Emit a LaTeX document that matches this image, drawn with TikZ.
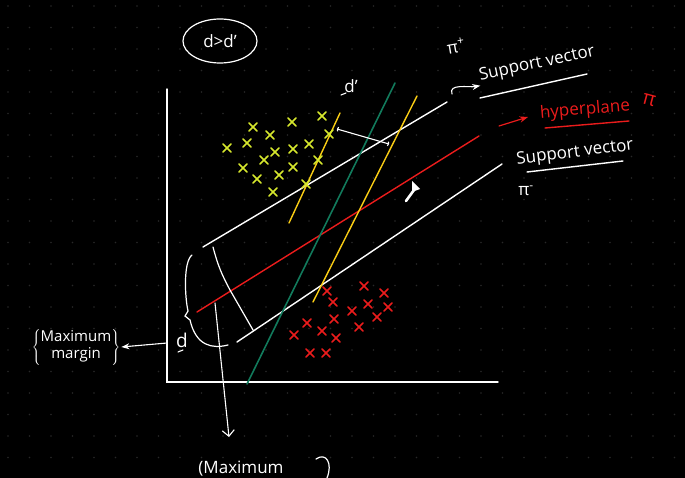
\documentclass[tikz,border=0pt]{standalone}
\usepackage{fontspec}
\setmainfont{Open Sans}
\usetikzlibrary{arrows.meta,shapes.geometric,positioning,calc}
\definecolor{hpred}{RGB}{235,28,28}
\definecolor{mgreen}{RGB}{18,122,92}
\definecolor{mgold}{RGB}{250,205,20}
\definecolor{ptyellow}{RGB}{215,232,45}
\definecolor{griddot}{RGB}{40,40,40}

\begin{document}
\begin{tikzpicture}[x=1pt, y=-1pt, >=Stealth, line cap=round,
  wline/.style={white, line width=1.4pt},
  hand/.style={white, font=\fontsize{17}{19}\selectfont, inner sep=1pt},
  ycross/.style={ptyellow, line width=1.6pt},
  rcross/.style={hpred, line width=1.6pt}]
  %% board
  \fill[black] (0,0) rectangle (685,478);
  \useasboundingbox (0,0) rectangle (685,478);
  \foreach \gx in {8,29.5,...,685}
    \foreach \gy in {6,27.5,...,478}
      \fill[griddot] (\gx,\gy) circle (0.8pt);

  %% axes
  \coordinate (ax-o) at (167,382);
  \coordinate (ax-y) at (167,89);
  \coordinate (ax-x) at (498,382);
  \draw[wline] (ax-y) -- (ax-o) -- (ax-x);

  %% ratio note
  \node[draw=white, line width=1.2pt, ellipse, minimum width=74pt, minimum height=44pt,
        hand] (ratio) at (220,41) {d>d'};

  %% margin planes and hyperplane
  \coordinate (pp-a) at (203,247);  \coordinate (pp-b) at (447,102);
  \coordinate (hp-a) at (197,312);  \coordinate (hp-b) at (479,136);
  \coordinate (pm-a) at (237,342);  \coordinate (pm-b) at (502,164);
  \draw[wline] (pp-a) -- (pp-b);
  \draw[hpred, line width=1.4pt] (hp-a) -- (hp-b);
  \draw[wline] (pm-a) -- (pm-b);

  %% other separating lines
  \coordinate (gr-a) at (247,384);  \coordinate (gr-b) at (395,83);
  \coordinate (y1-a) at (289,223);  \coordinate (y1-b) at (340,113);
  \coordinate (y2-a) at (313,302);  \coordinate (y2-b) at (417,96);
  \draw[mgreen, line width=1.6pt] (gr-a) -- (gr-b);
  \draw[mgold, line width=1.4pt] (y1-a) -- (y1-b);
  \draw[mgold, line width=1.4pt] (y2-a) -- (y2-b);

  %% d' between the yellow lines
  \coordinate (dp-a) at (337,129);  \coordinate (dp-b) at (389,144);
  \draw[white, line width=1.1pt, {Parenthesis[length=2pt,width=6pt]}-{Parenthesis[length=2pt,width=6pt]}]
    (dp-a) -- (dp-b);
  \node[hand] (dprime) at (351,86) {d'};
  \draw[white, line width=1.1pt] (341,95) -- (346,93);

  %% labels on the right
  \node[hand, rotate=10] (piplus) at (456,46) {π\textsuperscript{+}};
  \node[hand, rotate=12] (svup) at (537,64) {Support vector};
  \coordinate (hk-a) at (452,94);
  \draw[white, line width=1.1pt, ->] (hk-a) to[out=110, in=190] (svup.south west);
  \draw[wline] (480,98) -- (587,74);

  \coordinate (ra-a) at (499,126);  \coordinate (ra-b) at (528,117);
  \draw[hpred, line width=1.2pt, ->] (ra-a) -- (ra-b);
  \node[hand, hpred, rotate=5] (hyptext) at (585,110) {hyperplane};
  \draw[hpred, line width=1.4pt] (545,128) -- (629,121);
  \node[hand, hpred, rotate=-15, font=\fontsize{20}{22}\selectfont] (pired) at (649,100) {π};

  \node[hand, rotate=7] (svlo) at (575,153) {Support vector};
  \draw[wline] (527,172) -- (623,161);
  \node[hand] (piminus) at (526,191) {π\textsuperscript{-}};

  %% positive points
  \foreach \px/\py in {322/116, 292/122, 253/127, 270/135, 247/143, 227/148,
                       275/152, 293/149, 309/144, 329/134, 264/160, 243/168,
                       293/167, 318/160, 279/175, 257/179, 306/184, 273/192}
    \draw[ycross] (\px,\py) +(-4,-4) -- +(4,4) +(-4,4) -- +(4,-4);

  %% negative points
  \foreach \px/\py in {364/286, 384/293, 327/291, 333/302, 368/304, 388/307,
                       352/311, 377/317, 334/319, 307/323, 359/327, 322/331,
                       294/335, 336/338, 310/353, 326/353}
    \draw[rcross] (\px,\py) +(-4,-4) -- +(4,4) +(-4,4) -- +(4,-4);

  %% margin width d
  \coordinate (mg-top) at (213,247);
  \coordinate (mg-bot) at (253,330);
  \draw[white, line width=1.2pt] (mg-top) .. controls (218,266) and (222,275) .. (230,290) -- (mg-bot);
  \draw[white, line width=1.2pt] (192,255) .. controls (183,262) and (185,298) .. (188,311)
    -- (185,316) -- (190,320) .. controls (196,346) and (212,349) .. (228,345);
  \node[hand, font=\fontsize{19}{21}\selectfont] (dlabel) at (182,340) {d};
  \draw[white, line width=1.1pt] (178,352) -- (183,350);

  \node[hand, font=\fontsize{15}{17}\selectfont] (maxmargin) at (76,347)
    {$\left\{\begin{tabular}{@{}c@{}}Maximum\\ margin\end{tabular}\right\}$};
  \coordinate (mm-a) at (167,343);
  \draw[white, line width=1.1pt, ->] (mm-a) -- (maxmargin.east);

  %% projection down from the hyperplane
  \coordinate (mx-top) at (215,303);
  \coordinate (mx-tip) at (229,437);
  \draw[white, line width=1.1pt, -{Straight Barb[length=6pt]}] (mx-top) -- (mx-tip);
  \node[hand] (maxbottom) at (241,469) {(Maximum};
  \draw[white, line width=1.2pt] (316,459) .. controls (326,452) and (333,463) .. (327,478);

  %% pointer
  \fill[white] (412,181) -- (420,189) -- (412,192) -- cycle;
  \draw[white, line width=2.6pt] (414,190) -- (406,201);
\end{tikzpicture}
\end{document}
